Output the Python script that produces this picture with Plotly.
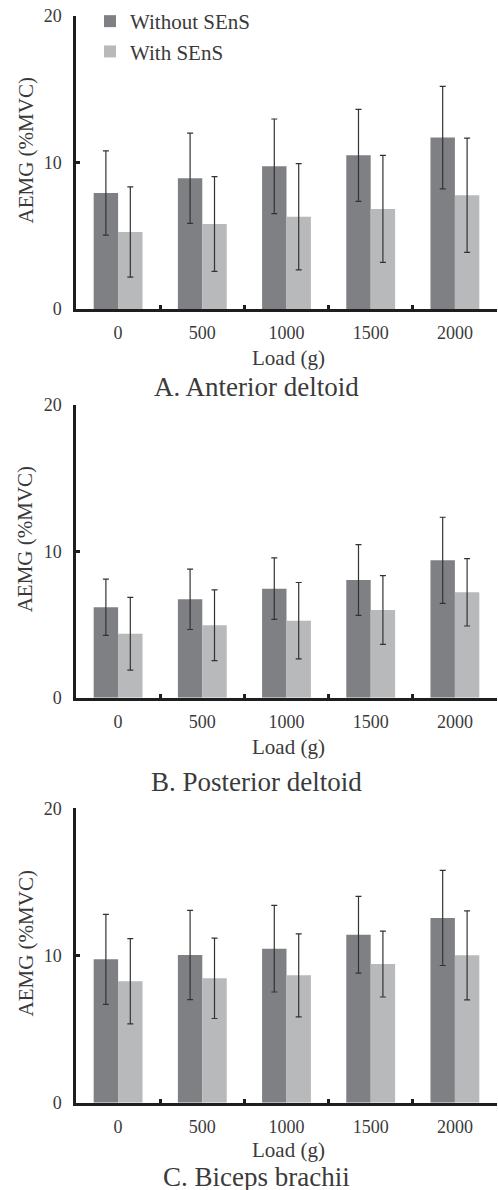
import plotly.graph_objects as go
from plotly.subplots import make_subplots

loads = ["0", "500", "1000", "1500", "2000"]
series_names = ["Without SEnS", "With SEnS"]

a_without = [7.92, 8.92, 9.74, 10.49, 11.70]
a_without_sd = [2.88, 3.08, 3.23, 3.14, 3.50]
a_with = [5.26, 5.80, 6.30, 6.83, 7.76]
a_with_sd = [3.08, 3.23, 3.63, 3.65, 3.90]

b_without = [6.18, 6.72, 7.45, 8.04, 9.39]
b_without_sd = [1.92, 2.06, 2.10, 2.42, 2.94]
b_with = [4.37, 4.95, 5.26, 5.99, 7.20]
b_with_sd = [2.48, 2.42, 2.61, 2.35, 2.30]

c_without = [9.74, 10.03, 10.46, 11.41, 12.55]
c_without_sd = [3.06, 3.03, 2.94, 2.61, 3.23]
c_with = [8.25, 8.45, 8.65, 9.42, 10.01]
c_with_sd = [2.89, 2.73, 2.82, 2.24, 3.02]

panel_titles = ["A. Anterior deltoid", "B. Posterior deltoid", "C. Biceps brachii"]
y_title = "AEMG (%MVC)"
x_title = "Load (g)"
y_ticks = [0, 10, 20]

W, H = 498, 1190
L, R = 76, 1
# pixel extents of each panel's y-axis (top, bottom)
panels_px = [(16, 309), (405, 697.7), (808.3, 1102.7)]

FONT = "Liberation Serif"
TXT = "#3a3a3a"
DARK = "#7f8084"
LIGHT = "#b8b9bb"
AX = "#1e1e1e"

def py(p):
    return 1 - p / H

def px(p):
    return (p - L) / (W - L - R)

fig = make_subplots(rows=3, cols=1)

data = [
    (a_without, a_without_sd, a_with, a_with_sd),
    (b_without, b_without_sd, b_with, b_with_sd),
    (c_without, c_without_sd, c_with, c_with_sd),
]

for i, (w0, w0sd, w1, w1sd) in enumerate(data):
    row = i + 1
    for name, vals, sd, col in [(series_names[0], w0, w0sd, DARK), (series_names[1], w1, w1sd, LIGHT)]:
        fig.add_trace(go.Bar(
            x=loads, y=vals, name=name, marker=dict(color=col, line=dict(width=0)),
            error_y=dict(type="data", array=sd, visible=True, color="#333333", thickness=1.2, width=3),
            showlegend=(i == 0),
        ), row=row, col=1)

for i, (top, bot) in enumerate(panels_px):
    xa = "xaxis" if i == 0 else f"xaxis{i+1}"
    ya = "yaxis" if i == 0 else f"yaxis{i+1}"
    fig.layout[ya].update(
        domain=[py(bot), py(top)], range=[0, 20], tickvals=y_ticks, automargin=False,
        ticks="inside", ticklen=4, tickwidth=2.5, tickcolor=AX,
        showline=True, linewidth=2.5, linecolor=AX, showgrid=False, zeroline=False,
        tickfont=dict(family=FONT, size=18, color=TXT), ticklabelstandoff=8,
    )
    fig.layout[xa].update(
        domain=[0, 1], type="category", tickson="boundaries", automargin=False,
        ticks="inside", ticklen=4, tickwidth=2.5, tickcolor=AX,
        showline=True, linewidth=2.5, linecolor=AX, showgrid=False, zeroline=False,
        tickfont=dict(family=FONT, size=18, color=TXT), ticklabelstandoff=6,
    )
    # y title
    fig.add_annotation(text=y_title, xref="paper", yref="paper", x=px(25), y=py((top + bot) / 2 - 12),
                       textangle=-90, showarrow=False, xanchor="center", yanchor="middle", borderpad=0,
                       font=dict(family=FONT, size=21, color=TXT))
    # x title
    fig.add_annotation(text=x_title, xref="paper", yref="paper", x=px(288), y=py(bot + [49, 49, 47][i]),
                       showarrow=False, xanchor="center", yanchor="middle", borderpad=0,
                       font=dict(family=FONT, size=21, color=TXT))
    # panel title
    fig.add_annotation(text=panel_titles[i], xref="paper", yref="paper", x=px(256), y=py(bot + [78, 84, 74][i]),
                       showarrow=False, xanchor="center", yanchor="middle", borderpad=0,
                       font=dict(family=FONT, size=27, color=TXT))

fig.update_layout(
    width=W, height=H, margin=dict(l=L, r=R, t=0, b=0, autoexpand=False),
    paper_bgcolor="white", plot_bgcolor="white",
    barmode="group", bargap=0.42, bargroupgap=0,
    legend=dict(x=px(90), y=py(1), xanchor="left", yanchor="top", tracegroupgap=0,
                font=dict(family=FONT, size=21, color=TXT), bgcolor="rgba(0,0,0,0)"),
    font=dict(family=FONT, color=TXT),
)

fig.write_html("out.html", config={"displayModeBar": False},
               post_script="document.body.style.margin='0';document.body.style.overflow='hidden';")
